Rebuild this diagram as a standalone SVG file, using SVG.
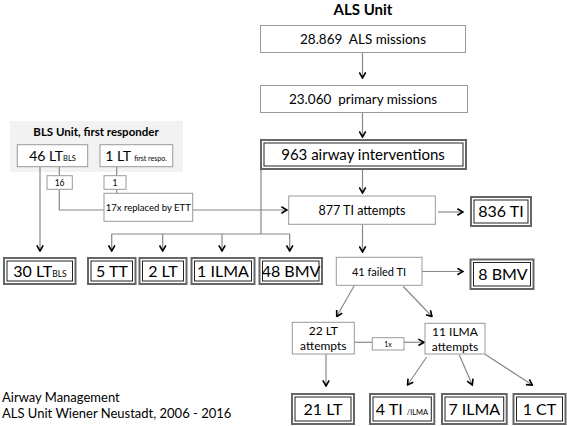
<svg xmlns="http://www.w3.org/2000/svg" width="567" height="426" viewBox="0 0 567 426">
<defs>
<marker id="a" viewBox="0 0 10 10" refX="9" refY="5" markerWidth="8" markerHeight="8" orient="auto" markerUnits="userSpaceOnUse">
<path d="M2,1 L9,5 L2,9" fill="none" stroke="#000" stroke-width="2"/>
</marker>
</defs>
<style>
text{font-family:Lato,"Liberation Sans",sans-serif;fill:#000;text-anchor:middle;white-space:pre}
.b{fill:#fff;stroke:#999;stroke-width:1}
.o{fill:#fff;stroke:#666;stroke-width:2}
.i{fill:none;stroke:#222;stroke-width:1}
.c line,.c path,.c polyline{fill:none;stroke:#888;stroke-width:1.2}
.ar{marker-end:url(#a)}
</style>
<rect width="567" height="426" fill="#fff"/>
<text x="363" y="15" font-size="15" font-weight="bold">ALS Unit</text>
<g id="bls">
<rect x="10" y="121" width="173" height="51" fill="#f2f2f2"/>
<text x="96" y="136" font-size="11.5" font-weight="bold">BLS Unit, first responder</text>
</g>
<g class="c">
<line class="ar" x1="362.5" y1="52" x2="362.5" y2="78"/>
<line class="ar" x1="362.5" y1="113" x2="362.5" y2="137"/>
<line class="ar" x1="362.5" y1="169" x2="362.5" y2="193"/>
<polyline points="261,169 261,234"/>
<line x1="111.7" y1="234" x2="290" y2="234"/>
<line class="ar" x1="111.7" y1="234" x2="111.7" y2="251"/>
<line class="ar" x1="162.7" y1="234" x2="162.7" y2="251"/>
<line class="ar" x1="222" y1="234" x2="222" y2="251"/>
<line class="ar" x1="289.7" y1="234" x2="289.7" y2="251"/>
<line class="ar" x1="40" y1="167" x2="40" y2="251"/>
<line x1="59.3" y1="167" x2="59.3" y2="175.7"/>
<polyline points="59.3,189.3 59.3,210 104,210"/>
<line x1="116.7" y1="167" x2="116.7" y2="175.7"/>
<line x1="116.7" y1="189.3" x2="116.7" y2="193.3"/>
<line class="ar" x1="192.7" y1="210" x2="287" y2="210"/>
<line class="ar" x1="438" y1="212" x2="463" y2="212"/>
<line class="ar" x1="362.5" y1="224.5" x2="362.5" y2="252"/>
<line class="ar" x1="422" y1="271.5" x2="463" y2="271.5"/>
<line class="ar" x1="354.3" y1="285.5" x2="336.7" y2="316.5"/>
<line class="ar" x1="403.3" y1="286.5" x2="432" y2="316.5"/>
<line x1="354.3" y1="342.3" x2="372.3" y2="342.3"/>
<line class="ar" x1="404" y1="342.3" x2="424" y2="342.3"/>
<line class="ar" x1="326" y1="354" x2="326" y2="386"/>
<line class="ar" x1="426.7" y1="357" x2="407.5" y2="385"/>
<line class="ar" x1="459.3" y1="355" x2="472.3" y2="385"/>
<line class="ar" x1="485" y1="354.3" x2="532.3" y2="385"/>
</g>
<g id="n1"><rect class="b" x="260.5" y="25.5" width="205" height="27"/><text x="363" y="44" font-size="13.5" xml:space="preserve">28.869  ALS missions</text></g>
<g id="n2"><rect class="b" x="260.5" y="85.5" width="207" height="27"/><text x="363" y="104" font-size="13.5" xml:space="preserve">23.060  primary missions</text></g>
<g id="n3"><rect class="o" x="261" y="140" width="205" height="29" stroke-width="2.5"/><rect class="i" x="264" y="143" width="199" height="23"/><text x="363" y="160" font-size="15">963 airway interventions</text></g>
<g id="n4"><rect class="b" x="288.7" y="196" width="146.6" height="28.3"/><text x="362" y="215" font-size="12.5">877 TI attempts</text></g>
<g id="n5"><rect class="o" x="471" y="197" width="60" height="29"/><rect class="i" x="474" y="200" width="54" height="23"/><text x="501" y="217" font-size="16">836 TI</text></g>
<g id="n6"><rect class="b" x="17.3" y="144.7" width="70.4" height="22"/><text x="52.5" y="160.5" font-size="14">46 LT<tspan font-size="7.5">BLS</tspan></text></g>
<g id="n7"><rect class="b" x="100" y="144.7" width="72.7" height="22"/><text x="136" y="160.5" font-size="14">1 LT <tspan font-size="7">first respo.</tspan></text></g>
<g id="n8"><rect class="b" x="47" y="175.7" width="25.3" height="13.6"/><text x="59.6" y="186" font-size="8.5">16</text></g>
<g id="n9"><rect class="b" x="104" y="175.7" width="22" height="13.6"/><text x="115" y="186" font-size="8.5">1</text></g>
<g id="n10"><rect class="b" x="104" y="193.3" width="88.7" height="28"/><text x="148.3" y="211" font-size="9.5">17x replaced by ETT</text></g>
<g id="n11"><rect class="o" x="4" y="258" width="71.5" height="26"/><rect class="i" x="7" y="261" width="65.5" height="20"/><text x="40" y="277" font-size="16">30 LT<tspan font-size="8.5">BLS</tspan></text></g>
<g id="n12"><rect class="o" x="88" y="258" width="47.5" height="26"/><rect class="i" x="91" y="261" width="41.5" height="20"/><text x="112" y="277" font-size="16">5 TT</text></g>
<g id="n13"><rect class="o" x="139.5" y="258" width="47" height="26"/><rect class="i" x="142.5" y="261" width="41" height="20"/><text x="163" y="277" font-size="16">2 LT</text></g>
<g id="n14"><rect class="o" x="191.5" y="258" width="63" height="26"/><rect class="i" x="194.5" y="261" width="57" height="20"/><text x="223" y="277" font-size="16">1 ILMA</text></g>
<g id="n15"><rect class="o" x="259.5" y="258" width="62.5" height="26"/><rect class="i" x="262.5" y="261" width="56.5" height="20"/><text x="291" y="277" font-size="16">48 BMV</text></g>
<g id="n16"><rect class="b" x="336.3" y="257.3" width="85.7" height="28"/><text x="379" y="275.5" font-size="11">41 failed TI</text></g>
<g id="n17"><rect class="o" x="470.5" y="259.5" width="63" height="29.5"/><rect class="i" x="473.5" y="262.5" width="57" height="23.5"/><text x="503" y="280" font-size="16">8 BMV</text></g>
<g id="n18"><rect class="b" x="292.3" y="322.3" width="62" height="31.7"/><text x="323.3" y="335" font-size="12">22 LT</text><text x="323.3" y="350" font-size="12">attempts</text></g>
<g id="n19"><rect class="b" x="372.3" y="337.7" width="31.7" height="12.3"/><text x="388" y="347" font-size="7">1x</text></g>
<g id="n20"><rect class="b" x="425" y="323.3" width="60" height="30.7"/><text x="455" y="336" font-size="12">11 ILMA</text><text x="455" y="351" font-size="12">attempts</text></g>
<g id="n21"><rect class="o" x="292" y="394" width="62" height="30"/><rect class="i" x="295" y="397" width="56" height="24"/><text x="323" y="414.5" font-size="16">21 LT</text></g>
<g id="n22"><rect class="o" x="370" y="394" width="64.3" height="30"/><rect class="i" x="373" y="397" width="58.3" height="24"/><text x="402" y="414.5" font-size="16">4 TI <tspan font-size="7.5">/ILMA</tspan></text></g>
<g id="n23"><rect class="o" x="442" y="394" width="64.7" height="30"/><rect class="i" x="445" y="397" width="58.7" height="24"/><text x="474.3" y="414.5" font-size="16">7 ILMA</text></g>
<g id="n24"><rect class="o" x="513.5" y="394" width="52" height="30"/><rect class="i" x="516.5" y="397" width="46" height="24"/><text x="539.5" y="414.5" font-size="16">1 CT</text></g>
<g id="footer">
<text x="2" y="402" font-size="13" style="text-anchor:start">Airway Management</text>
<text x="2" y="418" font-size="13" style="text-anchor:start">ALS Unit Wiener Neustadt, 2006 - 2016</text>
</g>
</svg>
